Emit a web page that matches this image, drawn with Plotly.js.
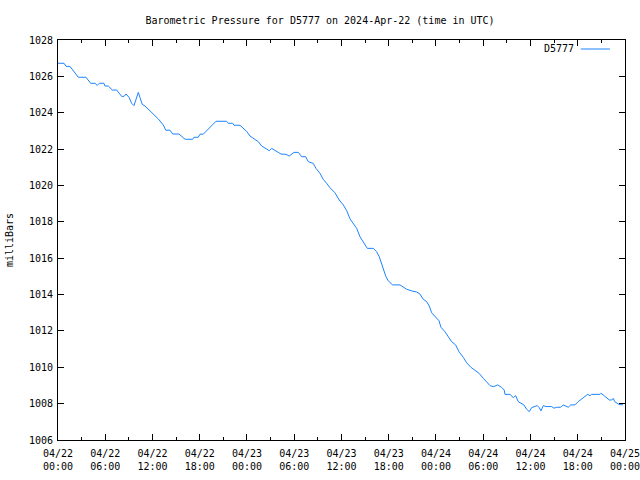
<!DOCTYPE html>
<html>
<head>
<meta charset="utf-8">
<script src="https://cdn.plot.ly/plotly-3.0.1.min.js"></script>
<style>
html,body{margin:0;padding:0;background:#fff;}
#chart{width:640px;height:480px;}
</style>
</head>
<body>
<div id="chart"></div>
<script>
// Observation times (UTC)
var times = [
"2024-04-22 00:00","2024-04-22 00:46","2024-04-22 01:01","2024-04-22 01:31","2024-04-22 02:35","2024-04-22 03:33",
"2024-04-22 04:09","2024-04-22 04:42","2024-04-22 04:59","2024-04-22 05:15","2024-04-22 05:50","2024-04-22 05:58",
"2024-04-22 06:23","2024-04-22 06:54","2024-04-22 07:27","2024-04-22 08:05","2024-04-22 08:23","2024-04-22 08:38",
"2024-04-22 09:01","2024-04-22 09:21","2024-04-22 09:39","2024-04-22 09:54","2024-04-22 10:12","2024-04-22 10:25",
"2024-04-22 10:42","2024-04-22 11:03","2024-04-22 11:33","2024-04-22 12:11","2024-04-22 12:44","2024-04-22 13:22",
"2024-04-22 13:41","2024-04-22 14:13","2024-04-22 14:34","2024-04-22 15:22","2024-04-22 15:55","2024-04-22 16:08",
"2024-04-22 17:06","2024-04-22 17:16","2024-04-22 17:49","2024-04-22 18:02","2024-04-22 18:27","2024-04-22 18:57",
"2024-04-22 19:31","2024-04-22 20:04","2024-04-22 21:25","2024-04-22 21:38","2024-04-22 22:11","2024-04-22 22:21",
"2024-04-22 23:07","2024-04-22 23:32","2024-04-22 23:58","2024-04-23 00:23","2024-04-23 01:01","2024-04-23 01:26",
"2024-04-23 01:52","2024-04-23 02:12","2024-04-23 02:35","2024-04-23 02:50","2024-04-23 03:08","2024-04-23 03:33",
"2024-04-23 03:58","2024-04-23 04:19","2024-04-23 04:57","2024-04-23 05:22","2024-04-23 05:58","2024-04-23 06:31",
"2024-04-23 06:57","2024-04-23 07:27","2024-04-23 07:47","2024-04-23 08:25","2024-04-23 08:46","2024-04-23 09:16",
"2024-04-23 09:41","2024-04-23 10:07","2024-04-23 10:32","2024-04-23 11:10","2024-04-23 11:43","2024-04-23 12:14",
"2024-04-23 12:40","2024-04-23 13:05","2024-04-23 13:30","2024-04-23 13:56","2024-04-23 14:21","2024-04-23 14:46",
"2024-04-23 15:17","2024-04-23 16:02","2024-04-23 16:28","2024-04-23 16:48","2024-04-23 17:07","2024-04-23 17:24",
"2024-04-23 17:39","2024-04-23 17:57","2024-04-23 18:17","2024-04-23 18:30","2024-04-23 19:26","2024-04-23 19:51",
"2024-04-23 20:17","2024-04-23 20:55","2024-04-23 21:33","2024-04-23 21:58","2024-04-23 22:23","2024-04-23 22:49",
"2024-04-23 23:09","2024-04-23 23:27","2024-04-23 23:52","2024-04-24 00:23","2024-04-24 00:38","2024-04-24 01:08",
"2024-04-24 01:34","2024-04-24 01:59","2024-04-24 02:30","2024-04-24 02:55","2024-04-24 03:28","2024-04-24 03:54",
"2024-04-24 04:26","2024-04-24 04:57","2024-04-24 05:28","2024-04-24 06:01","2024-04-24 06:26","2024-04-24 06:52",
"2024-04-24 07:17","2024-04-24 07:50","2024-04-24 08:20","2024-04-24 08:40","2024-04-24 08:46","2024-04-24 09:24",
"2024-04-24 09:49","2024-04-24 10:07","2024-04-24 10:27","2024-04-24 10:46","2024-04-24 11:10","2024-04-24 11:31",
"2024-04-24 11:51","2024-04-24 12:09","2024-04-24 12:34","2024-04-24 12:52","2024-04-24 13:07","2024-04-24 13:20",
"2024-04-24 13:38","2024-04-24 13:58","2024-04-24 14:41","2024-04-24 14:59","2024-04-24 15:20","2024-04-24 15:50",
"2024-04-24 16:10","2024-04-24 16:31","2024-04-24 16:48","2024-04-24 17:07","2024-04-24 17:39","2024-04-24 18:04",
"2024-04-24 18:30","2024-04-24 18:55","2024-04-24 19:16","2024-04-24 19:34","2024-04-24 19:46","2024-04-24 20:50",
"2024-04-24 20:57","2024-04-24 21:14","2024-04-24 21:35","2024-04-24 22:01","2024-04-24 22:19","2024-04-24 22:31",
"2024-04-24 22:42","2024-04-24 23:00","2024-04-24 23:14","2024-04-24 23:45"
];
// Pressure in milliBars
var pressure = [
1026.72,1026.72,1026.55,1026.55,1025.95,1025.95,
1025.62,1025.62,1025.50,1025.62,1025.62,1025.47,
1025.47,1025.25,1025.25,1024.90,1024.90,1025.03,
1024.85,1024.52,1024.39,1024.79,1025.12,1024.83,
1024.46,1024.37,1024.15,1023.93,1023.66,1023.33,
1023.04,1023.04,1022.83,1022.83,1022.65,1022.54,
1022.54,1022.65,1022.65,1022.82,1022.82,1023.05,
1023.33,1023.53,1023.53,1023.42,1023.42,1023.31,
1023.31,1023.14,1022.97,1022.72,1022.54,1022.41,
1022.17,1022.08,1021.99,1021.91,1022.04,1021.91,
1021.82,1021.73,1021.71,1021.62,1021.82,1021.82,
1021.58,1021.58,1021.31,1021.21,1020.94,1020.67,
1020.34,1020.12,1019.88,1019.60,1019.20,1018.93,
1018.61,1018.16,1017.92,1017.64,1017.18,1016.91,
1016.54,1016.54,1016.36,1016.08,1015.63,1015.26,
1014.98,1014.75,1014.60,1014.53,1014.53,1014.40,
1014.29,1014.20,1014.14,1014.03,1013.74,1013.61,
1013.37,1013.00,1012.78,1012.56,1012.20,1011.96,
1011.68,1011.41,1011.23,1010.86,1010.55,1010.25,
1010.00,1009.85,1009.67,1009.39,1009.21,1008.99,
1008.93,1009.03,1008.90,1008.75,1008.51,1008.51,
1008.33,1008.44,1008.11,1008.02,1007.93,1007.69,
1007.56,1007.78,1007.87,1007.89,1007.78,1007.60,
1007.89,1007.84,1007.84,1007.75,1007.80,1007.80,
1007.93,1007.84,1007.80,1007.93,1007.93,1008.11,
1008.24,1008.38,1008.51,1008.44,1008.51,1008.51,
1008.57,1008.48,1008.33,1008.20,1008.20,1008.29,
1008.11,1008.05,1007.96,1007.93
];
var seriesName = "D5777";
var xRange = ["2024-04-22 00:00", "2024-04-25 00:00:30"];
var yRange = [1006, 1028];
var xTickVals = ["2024-04-22 00:00","2024-04-22 06:00","2024-04-22 12:00","2024-04-22 18:00",
                 "2024-04-23 00:00","2024-04-23 06:00","2024-04-23 12:00","2024-04-23 18:00",
                 "2024-04-24 00:00","2024-04-24 06:00","2024-04-24 12:00","2024-04-24 18:00",
                 "2024-04-25 00:00"];
var xTickText = ["04/22<br>00:00","04/22<br>06:00","04/22<br>12:00","04/22<br>18:00",
                 "04/23<br>00:00","04/23<br>06:00","04/23<br>12:00","04/23<br>18:00",
                 "04/24<br>00:00","04/24<br>06:00","04/24<br>12:00","04/24<br>18:00",
                 "04/25<br>00:00"];

var font = {family: "DejaVu Sans Mono, Liberation Mono, monospace", size: 10, color: "#000"};
var lineColor = "#1a84ff";

var trace = {
  x: times, y: pressure, type: "scatter", mode: "lines",
  name: seriesName,
  line: {color: lineColor, width: 1, shape: "linear"},
  showlegend: false
};

var layout = {
  width: 640, height: 480,
  margin: {l: 58, r: 15, t: 40, b: 40},
  paper_bgcolor: "#fff", plot_bgcolor: "#fff",
  font: font,
  title: {text: "Barometric Pressure for D5777 on 2024-Apr-22 (time in UTC)",
          font: {family: font.family, size: 10, color: "#000"},
          x: 0.5, xanchor: "center", y: 0.958, yanchor: "middle"},
  xaxis: {
    type: "date", range: xRange,
    tickmode: "array", tickvals: xTickVals, ticktext: xTickText,
    ticklabeloverflow: "allow", ticklabelstandoff: 4,
    ticks: "inside", ticklen: 6, tickwidth: 1, tickcolor: "#000",
    showline: true, linecolor: "#000", linewidth: 1, mirror: "ticks",
    showgrid: false, zeroline: false,
    tickfont: font,
    minor: {tick0: "2024-04-22 03:00", dtick: 3 * 3600000, ticks: "inside", ticklen: 3, tickcolor: "#000", showgrid: false}
  },
  yaxis: {
    range: yRange, dtick: 2, tick0: 1006,
    ticks: "inside", ticklen: 6, tickwidth: 1, tickcolor: "#000",
    showline: true, linecolor: "#000", linewidth: 1, mirror: "ticks",
    showgrid: false, zeroline: false,
    tickfont: font, ticklabelstandoff: 2,
    title: {text: "milliBars", font: font, standoff: 13}
  },
  shapes: [{
    type: "line", xref: "paper", yref: "paper",
    x0: 0.922, x1: 0.9735, y0: 0.9775, y1: 0.9775,
    line: {color: lineColor, width: 1}
  }],
  annotations: [{
    text: seriesName, xref: "paper", yref: "paper",
    x: 0.9136, y: 0.9775, xanchor: "right", yanchor: "middle",
    showarrow: false, font: font
  }]
};

Plotly.newPlot("chart", [trace], layout, {displayModeBar: false, staticPlot: true});
</script>
</body>
</html>
